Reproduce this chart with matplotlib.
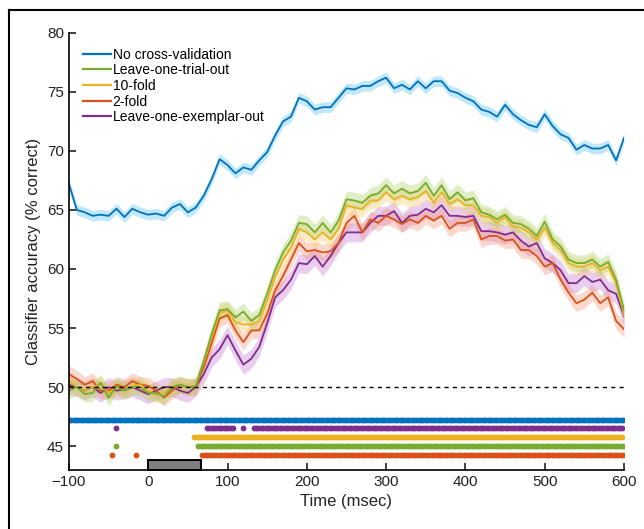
import numpy as np
import matplotlib
matplotlib.use('Agg')
import matplotlib.pyplot as plt
from matplotlib.patches import Rectangle
from matplotlib.lines import Line2D

plt.rcParams['font.family'] = ['Liberation Sans', 'DejaVu Sans']

# time axis (msec), 10 ms steps
t = list(range(-100, 601, 10))

no_cv = [67.2, 65.0, 64.8, 64.5, 64.6, 64.5, 65.1, 64.4, 65.1, 64.8,
         64.6, 64.7, 64.5, 65.2, 65.5, 64.8, 65.2, 66.2, 67.6, 69.3,
         68.8, 68.1, 68.6, 68.4, 69.2, 69.9, 71.3, 72.5, 72.9, 74.5,
         74.2, 73.5, 73.7, 73.7, 74.5, 75.3, 75.2, 75.5, 75.5, 75.9,
         76.2, 75.3, 75.6, 75.2, 75.9, 75.3, 75.9, 75.9, 75.1, 74.9,
         74.5, 74.2, 73.5, 73.3, 72.9, 73.9, 73.1, 72.6, 72.2, 72.0,
         73.1, 72.1, 71.4, 71.1, 70.1, 70.5, 70.2, 70.2, 70.5, 69.2, 71.1]

trial_out = [49.7, 50.0, 49.4, 49.5, 50.4, 49.1, 50.1, 49.7, 50.0, 50.0,
             49.5, 49.5, 49.2, 50.0, 50.2, 50.0, 50.1, 52.2, 54.5, 56.5,
             56.6, 55.9, 56.4, 55.6, 56.1, 57.9, 59.9, 61.4, 62.4, 63.9,
             63.8, 63.1, 63.9, 63.1, 64.1, 65.9, 65.8, 65.6, 66.2, 66.4,
             67.1, 66.4, 66.8, 66.4, 66.6, 67.3, 66.2, 67.1, 65.9, 66.5,
             65.8, 66.0, 64.8, 64.6, 64.2, 64.6, 63.9, 63.8, 63.4, 62.8,
             64.0, 62.5, 61.9, 60.8, 60.5, 60.5, 60.8, 60.2, 60.6, 59.1, 56.5]

tenfold = [50.5, 50.0, 49.7, 50.0, 50.2, 49.5, 50.0, 49.7, 50.1, 50.2,
           49.7, 49.4, 49.5, 50.0, 50.2, 50.0, 50.1, 52.1, 54.2, 56.3,
           56.5, 55.5, 55.3, 55.3, 55.6, 57.3, 59.3, 60.8, 61.8, 63.4,
           63.1, 62.5, 63.1, 62.5, 63.4, 65.4, 65.2, 65.1, 65.8, 65.8,
           66.5, 65.9, 66.2, 65.9, 66.1, 66.6, 65.6, 66.5, 65.5, 65.9,
           65.4, 65.4, 64.5, 64.4, 63.9, 64.4, 63.6, 63.5, 63.1, 62.5,
           63.5, 62.2, 61.6, 60.5, 60.2, 60.2, 60.5, 59.9, 60.2, 58.8, 56.1]

twofold = [51.1, 50.7, 50.2, 50.5, 49.7, 49.7, 50.2, 50.0, 50.5, 50.2,
           50.1, 49.7, 49.1, 49.7, 50.2, 50.0, 50.0, 51.7, 53.7, 55.8,
           56.1, 54.8, 53.8, 54.8, 54.8, 56.2, 58.2, 59.4, 60.8, 62.2,
           61.5, 61.6, 61.4, 61.5, 62.2, 63.9, 64.5, 63.1, 64.2, 63.9,
           64.5, 64.2, 63.8, 64.2, 63.9, 64.5, 64.1, 64.5, 63.4, 63.9,
           63.9, 64.2, 62.5, 62.8, 62.8, 62.4, 62.5, 61.6, 61.6, 61.1,
           60.2, 60.5, 59.1, 58.0, 57.1, 57.4, 58.0, 57.1, 57.6, 55.6, 54.9]

exemplar_out = [50.2, 50.0, 49.7, 50.0, 49.5, 50.0, 49.7, 49.8, 50.0, 49.7,
                49.4, 49.7, 50.0, 50.0, 49.7, 49.5, 50.0, 51.1, 52.5, 53.2,
                54.4, 53.1, 51.9, 52.4, 53.4, 55.4, 57.6, 58.2, 59.1, 60.5,
                60.4, 61.1, 60.2, 61.1, 62.2, 63.1, 63.1, 63.1, 63.9, 64.5,
                64.5, 64.9, 63.9, 64.5, 64.6, 65.1, 64.8, 65.4, 64.5, 64.5,
                64.4, 64.5, 63.2, 63.2, 63.1, 62.9, 63.1, 62.4, 61.9, 62.2,
                60.9, 60.5, 59.9, 58.8, 58.8, 59.4, 58.9, 59.1, 58.2, 57.9, 56.0]

labels = ['No cross-validation', 'Leave-one-trial-out', '10-fold', '2-fold',
          'Leave-one-exemplar-out']
series = [no_cv, trial_out, tenfold, twofold, exemplar_out]
colors = ['#0072BD', '#77AC30', '#EDB120', '#D95319', '#7E2F8E']
band_colors = ['#4DBEEE', '#A8D060', '#F5CB60', '#F59070', '#C070D0']
band_half = [0.45, 0.7, 0.7, 0.7, 0.8]

# significance dots: (start, end) msec per row
sig_rows = ['No cross-validation', 'Leave-one-exemplar-out', '10-fold',
            'Leave-one-trial-out', '2-fold']
sig_y = [47.25, 46.5, 45.75, 45.0, 44.25]
sig_spans = [[(-100, 600)],
             [(-41, -41), (74, 107), (120, 120), (133, 600)],
             [(58, 600)],
             [(-41, -41), (63, 600)],
             [(-46, -46), (-16, -16), (68, 600)]]

fig = plt.figure(figsize=(6.44, 5.29), dpi=100)
ax = fig.add_axes([0.107, 0.112, 0.862, 0.826])

tt = np.array(t)
# draw back to front so green ends on top like the reference
order = [0, 4, 3, 2, 1]
for i in order:
    y = np.array(series[i])
    ax.fill_between(tt, y - band_half[i], y + band_half[i], color=band_colors[i],
                    alpha=0.35, lw=0)
for i in order:
    ax.plot(tt, series[i], color=colors[i], lw=1.3)

ax.axhline(50, color='black', lw=1.0, ls=(0, (3, 3)))

for name, yy, spans in zip(sig_rows, sig_y, sig_spans):
    c = colors[labels.index(name)]
    for a, b in spans:
        xs = np.arange(a, b + 0.1, 3.0)
        ax.plot(xs, np.full(len(xs), yy), 'o', color=c, ms=4.2, mec='none')

ax.add_patch(Rectangle((0, 43), 67, 0.8, facecolor='#7f7f7f', edgecolor='black',
                       lw=1.4, zorder=5, clip_on=False))

ax.set_xlim(-100, 600)
ax.set_ylim(43, 80)
ax.set_xticks(range(-100, 601, 100))
ax.set_yticks(range(45, 81, 5))
ax.spines['top'].set_visible(False)
ax.spines['right'].set_visible(False)
ax.spines['left'].set_linewidth(1.2)
ax.spines['bottom'].set_linewidth(1.2)
ax.tick_params(direction='in', length=5, width=1.2, labelsize=11, colors='#222222')
ax.set_xlabel('Time (msec)', fontsize=12, color='#222222')
ax.set_ylabel('Classifier accuracy (% correct)', fontsize=12, color='#222222')

handles = [Line2D([0], [0], color=c, lw=1.6) for c in colors]
ax.legend(handles, labels, loc='upper left', bbox_to_anchor=(0.01, 0.985),
          frameon=False, fontsize=10, handlelength=2.0, handletextpad=0.15,
          labelspacing=0.12, borderaxespad=0.2)

# outer frame like the reference
fig.add_artist(Line2D([9 / 644, 9 / 644], [0, 1 - 10 / 529], color='black',
                      lw=1.5, transform=fig.transFigure))
fig.add_artist(Line2D([9 / 644, 1], [1 - 10 / 529, 1 - 10 / 529], color='black',
                      lw=1.5, transform=fig.transFigure))

fig.savefig('out.png', dpi=100)
